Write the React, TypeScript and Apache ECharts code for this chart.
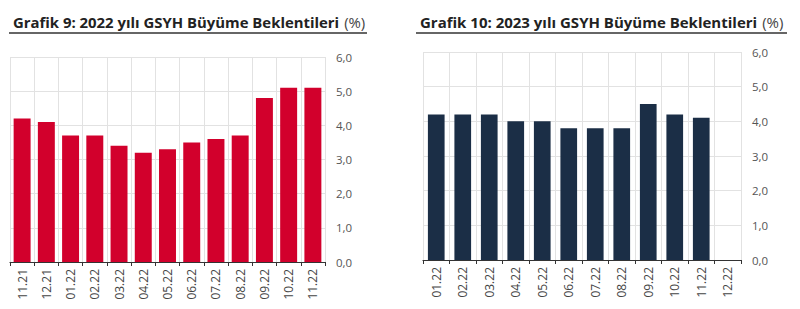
import React, { useEffect, useRef } from "react";
import * as echarts from "echarts";

const leftTitle = "Grafik 9: 2022 yılı GSYH Büyüme Beklentileri";
const rightTitle = "Grafik 10: 2023 yılı GSYH Büyüme Beklentileri";
const unitLabel = "(%)";

const leftCategories = ["11.21", "12.21", "01.22", "02.22", "03.22", "04.22", "05.22", "06.22", "07.22", "08.22", "09.22", "10.22", "11.22"];
const leftValues = [4.2, 4.1, 3.7, 3.7, 3.4, 3.2, 3.3, 3.5, 3.6, 3.7, 4.8, 5.1, 5.1];

const rightCategories = ["01.22", "02.22", "03.22", "04.22", "05.22", "06.22", "07.22", "08.22", "09.22", "10.22", "11.22", "12.22"];
const rightValues: (number | null)[] = [4.2, 4.2, 4.2, 4.0, 4.0, 3.8, 3.8, 3.8, 4.5, 4.2, 4.1, null];

const FONT = "'Open Sans', 'Noto Sans', sans-serif";

export default function App() {
  const ref = useRef<HTMLDivElement>(null);
  useEffect(() => {
    if (!ref.current) return;
    const chart = echarts.init(ref.current, null, { renderer: "svg" });
    const yAxisCommon = (gridIndex: number) => ({
      type: "value" as const,
      gridIndex,
      position: "right" as const,
      min: 0,
      max: 6,
      interval: 1,
      axisLine: { show: false },
      axisTick: { show: false },
      axisLabel: {
        color: "#555",
        fontSize: 11.5,
        fontFamily: FONT,
        margin: 11,
        formatter: (v: number) => v.toFixed(1).replace(".", ","),
      },
      splitLine: { show: true, lineStyle: { color: "#e2e2e2", width: 1 } },
    });
    const xAxisCommon = (gridIndex: number, data: string[]) => ({
      type: "category" as const,
      gridIndex,
      data,
      boundaryGap: true,
      axisLine: { show: true, lineStyle: { color: "#333", width: 1.2 } },
      axisTick: { show: true, length: 4, lineStyle: { color: "#333" } },
      axisLabel: {
        rotate: 90,
        color: "#444",
        fontSize: 12,
        fontFamily: FONT,
        margin: 7,
        interval: 0,
      },
      splitLine: { show: true, lineStyle: { color: "#e2e2e2", width: 1 } },
    });
    const titleRich = (size: number) => ({
      b: { fontSize: size, fontWeight: "bold", color: "#222", fontFamily: FONT },
      n: { fontSize: size, fontWeight: "normal", color: "#444", fontFamily: FONT },
    });
    chart.setOption({
      animation: false,
      backgroundColor: "#fff",
      title: [
        {
          text: `{b|${leftTitle}} {n|${unitLabel}}`,
          left: 8,
          top: 8,
          textStyle: { rich: titleRich(14.9) },
        },
        {
          text: `{b|${rightTitle}} {n|${unitLabel}}`,
          left: 415,
          top: 8,
          textStyle: { rich: titleRich(15) },
        },
      ],
      graphic: [
        { type: "line", shape: { x1: 9, y1: 33, x2: 367, y2: 33 }, style: { stroke: "#333", lineWidth: 1.3 } },
        { type: "line", shape: { x1: 416, y1: 33, x2: 787, y2: 33 }, style: { stroke: "#333", lineWidth: 1.3 } },
      ],
      grid: [
        { left: 10, top: 57, width: 315, height: 205 },
        { left: 423, top: 52, width: 318, height: 208 },
      ],
      xAxis: [xAxisCommon(0, leftCategories), xAxisCommon(1, rightCategories)],
      yAxis: [yAxisCommon(0), yAxisCommon(1)],
      series: [
        {
          type: "bar",
          xAxisIndex: 0,
          yAxisIndex: 0,
          data: leftValues,
          barCategoryGap: "30%",
          itemStyle: { color: "#d2002c" },
        },
        {
          type: "bar",
          xAxisIndex: 1,
          yAxisIndex: 1,
          data: rightValues,
          barCategoryGap: "37%",
          itemStyle: { color: "#1b2e46" },
        },
      ],
    });
    return () => chart.dispose();
  }, []);
  return <div ref={ref} style={{ width: 800, height: 309, position: "absolute", left: 0, top: 0 }} />;
}
